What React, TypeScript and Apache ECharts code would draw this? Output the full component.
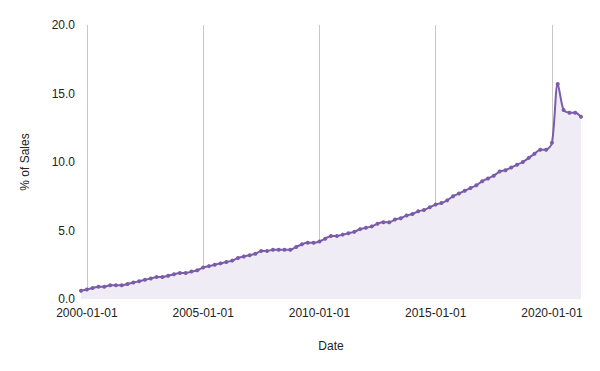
import React, { useEffect, useRef } from "react";
import * as echarts from "echarts";

// Quarterly dates, starting 1999-10-01
const startYear = 1999;
const startMonth = 10;
const values: number[] = [
  0.6, 0.7, 0.8, 0.9, 0.9, 1.0, 1.0, 1.0, 1.1, 1.2,
  1.3, 1.4, 1.5, 1.6, 1.6, 1.7, 1.8, 1.9, 1.9, 2.0,
  2.1, 2.3, 2.4, 2.5, 2.6, 2.7, 2.8, 3.0, 3.1, 3.2,
  3.3, 3.5, 3.5, 3.6, 3.6, 3.6, 3.6, 3.8, 4.0, 4.1,
  4.1, 4.2, 4.4, 4.6, 4.6, 4.7, 4.8, 4.9, 5.1, 5.2,
  5.3, 5.5, 5.6, 5.6, 5.8, 5.9, 6.1, 6.2, 6.4, 6.5,
  6.7, 6.9, 7.0, 7.2, 7.5, 7.7, 7.9, 8.1, 8.3, 8.6,
  8.8, 9.0, 9.3, 9.4, 9.6, 9.8, 10.0, 10.3, 10.6, 10.9,
  10.9, 11.4, 15.7, 13.8, 13.6, 13.6, 13.3,
];
const tickDates: string[] = ["2000-01-01", "2005-01-01", "2010-01-01", "2015-01-01", "2020-01-01"];
const yTicks: number[] = [0, 5, 10, 15, 20];

function pad(n: number) {
  return n < 10 ? "0" + n : "" + n;
}
function quarterDate(i: number): string {
  const m0 = startMonth - 1 + i * 3;
  const y = startYear + Math.floor(m0 / 12);
  const m = (m0 % 12) + 1;
  return `${y}-${pad(m)}-01`;
}
function toTime(s: string): number {
  const [y, m, d] = s.split("-").map(Number);
  return Date.UTC(y, m - 1, d);
}
function fmt(v: number): string {
  const d = new Date(v);
  return `${d.getUTCFullYear()}-${pad(d.getUTCMonth() + 1)}-${pad(d.getUTCDate())}`;
}

const dates = values.map((_, i) => quarterDate(i));

export default function App() {
  const ref = useRef<HTMLDivElement>(null);
  useEffect(() => {
    document.body.style.margin = "0";
    if (!ref.current) return;
    const chart = echarts.init(ref.current, undefined, { renderer: "svg" });
    const font = "Liberation Sans, Arial, sans-serif";
    const tickVals = tickDates.map(toTime);
    chart.setOption({
      animation: false,
      grid: { left: 81, right: 19, top: 25, bottom: 72, containLabel: false },
      xAxis: {
        type: "value",
        min: toTime(dates[0]),
        max: toTime(dates[dates.length - 1]),
        name: "Date",
        nameLocation: "middle",
        nameGap: 41,
        nameTextStyle: { color: "#222", fontSize: 12, fontFamily: font },
        axisLine: { show: false },
        axisTick: { show: false, customValues: tickVals },
        axisLabel: {
          customValues: tickVals,
          color: "#222",
          fontSize: 12,
          fontFamily: font,
          margin: 8,
          showMinLabel: true,
          showMaxLabel: true,
          formatter: (v: number) => fmt(v),
        },
        splitLine: { show: true, lineStyle: { color: "#c8c8c8", width: 1 } },
      },
      yAxis: {
        type: "value",
        min: yTicks[0],
        max: yTicks[yTicks.length - 1],
        interval: 5,
        name: "% of Sales",
        nameLocation: "middle",
        nameGap: 50,
        nameTextStyle: { color: "#222", fontSize: 12, fontFamily: font },
        axisLine: { show: false },
        axisTick: { show: false },
        axisLabel: {
          color: "#222",
          fontSize: 12,
          fontFamily: font,
          margin: 6,
          formatter: (v: number) => v.toFixed(1),
        },
        splitLine: { show: false },
      },
      series: [
        {
          type: "line",
          data: dates.map((d, i) => [toTime(d), values[i]]),
          smooth: 0.3,
          symbol: "circle",
          symbolSize: 4,
          itemStyle: { color: "#7a5ca8" },
          lineStyle: { color: "#7a5ca8", width: 2 },
          areaStyle: { color: "#f0ecf6", opacity: 1 },
        },
      ],
    });
    return () => chart.dispose();
  }, []);
  return <div ref={ref} style={{ width: 600, height: 371 }} />;
}
